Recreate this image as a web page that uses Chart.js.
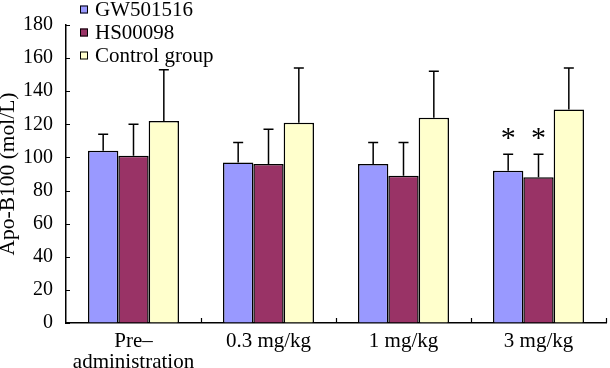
<!DOCTYPE html>
<html>
<head>
<meta charset="utf-8">
<script src="https://cdn.jsdelivr.net/npm/chart.js@4.4.1/dist/chart.umd.min.js"></script>
<style>
  html, body { margin: 0; padding: 0; background: #ffffff; }
  #wrap { width: 610px; height: 368px; position: relative; }
</style>
</head>
<body>
<div id="wrap"><canvas id="c"></canvas></div>
<script>
// ---- data ----
const categories = [["Pre\u2013", "administration"], "0.3 mg/kg", "1 mg/kg", "3 mg/kg"];
const seriesNames = ["GW501516", "HS00098", "Control group"];
const gwValues   = [104, 97, 96, 92];
const gwErrors   = [10, 12, 13, 10];
const hsValues   = [101, 96, 89, 88];
const hsErrors   = [19, 21, 20, 14];
const ctrlValues = [122, 121, 124, 129];
const ctrlErrors = [31, 33, 28, 25];
const gwSignificant   = [false, false, false, true];
const hsSignificant   = [false, false, false, true];
const ctrlSignificant = [false, false, false, false];
const yTicks = [0, 20, 40, 60, 80, 100, 120, 140, 160, 180];

const FONT = "'Liberation Serif', 'Times New Roman', serif";
Chart.defaults.font.family = FONT;
Chart.defaults.color = '#000';

const errorBarPlugin = {
  id: 'errorBars',
  afterDatasetsDraw(chart) {
    const ctx = chart.ctx;
    const y = chart.scales.y;
    ctx.save();
    ctx.strokeStyle = '#000';
    ctx.lineWidth = 1.5;
    chart.data.datasets.forEach((ds, di) => {
      const meta = chart.getDatasetMeta(di);
      meta.data.forEach((bar, i) => {
        const top = y.getPixelForValue(ds.data[i]);
        const capY = y.getPixelForValue(ds.data[i] + ds.errors[i]);
        ctx.beginPath();
        ctx.moveTo(bar.x, top);
        ctx.lineTo(bar.x, capY);
        ctx.moveTo(bar.x - 5, capY);
        ctx.lineTo(bar.x + 5, capY);
        ctx.stroke();
        if (ds.significant[i]) {
          ctx.fillStyle = '#000';
          ctx.font = '30px ' + FONT;
          ctx.textAlign = 'center';
          ctx.textBaseline = 'alphabetic';
          ctx.fillText('*', bar.x, capY - 7.5);
        }
      });
    });
    ctx.restore();
  }
};

const axisTicksPlugin = {
  id: 'axisTicks',
  afterDraw(chart) {
    const ctx = chart.ctx;
    const xs = chart.scales.x, ys = chart.scales.y;
    const area = chart.chartArea;
    ctx.save();
    ctx.strokeStyle = '#000';
    ctx.lineWidth = 1.2;
    ctx.beginPath();
    ys.ticks.forEach(t => {
      const py = Math.round(ys.getPixelForValue(t.value)) + 0.5;
      ctx.moveTo(area.left, py);
      ctx.lineTo(area.left + 4, py);
    });
    const n = xs.ticks.length;
    for (let i = 0; i < n; i++) {
      let px;
      if (i < n - 1) px = (xs.getPixelForTick(i) + xs.getPixelForTick(i + 1)) / 2;
      else px = area.right;
      px = Math.round(px) + 0.5;
      ctx.moveTo(px, area.bottom);
      ctx.lineTo(px, area.bottom - 5);
    }
    ctx.stroke();
    ctx.restore();
  }
};

const legendPlugin = {
  id: 'customLegend',
  afterDraw(chart) {
    const ctx = chart.ctx;
    ctx.save();
    chart.data.datasets.forEach((ds, i) => {
      const cy = 9.5 + i * 23;
      ctx.fillStyle = ds.backgroundColor;
      ctx.fillRect(80, cy - 4, 8, 8);
      ctx.strokeStyle = '#000';
      ctx.lineWidth = 1;
      ctx.strokeRect(80.5, cy - 3.5, 7, 7);
      ctx.fillStyle = '#000';
      ctx.font = '21px ' + FONT;
      ctx.textAlign = 'left';
      ctx.textBaseline = 'middle';
      ctx.fillText(ds.label, 95, cy + 1);
    });
    ctx.restore();
  }
};

const mkDs = (label, data, errors, significant, color) => ({
  label, data, errors, significant,
  backgroundColor: color,
  borderColor: '#000',
  borderWidth: 1.5,
  borderSkipped: 'bottom',
  categoryPercentage: 0.674,
  barPercentage: 1.0
});

new Chart(document.getElementById('c'), {
  type: 'bar',
  data: {
    labels: categories,
    datasets: [
      mkDs(seriesNames[0], gwValues, gwErrors, gwSignificant, '#9999ff'),
      mkDs(seriesNames[1], hsValues, hsErrors, hsSignificant, '#993366'),
      mkDs(seriesNames[2], ctrlValues, ctrlErrors, ctrlSignificant, '#ffffcc')
    ]
  },
  options: {
    responsive: true,
    maintainAspectRatio: false,
    animation: false,
    layout: { padding: { top: 25, right: 4, left: 0, bottom: 0 } },
    plugins: { legend: { display: false }, tooltip: { enabled: false } },
    scales: {
      x: {
        grid: { display: true, drawOnChartArea: false, drawTicks: false },
        border: { display: true, color: '#000', width: 1.5 },
        ticks: { font: { size: 21, lineHeight: 1.0 }, color: '#000', padding: 8, maxRotation: 0, autoSkip: false },
        afterFit(scale) { scale.height = 45; }
      },
      y: {
        min: 0, max: 180,
        grid: { display: true, drawOnChartArea: false, drawTicks: false },
        border: { display: true, color: '#000', width: 1.5 },
        afterBuildTicks(scale) { scale.ticks = yTicks.map(v => ({ value: v })); },
        ticks: { font: { size: 20 }, color: '#000', padding: 13 },
        title: { display: true, text: 'Apo-B100 (mol/L)', font: { size: 21.5, lineHeight: 0.8 }, color: '#000', padding: { top: 0, bottom: 0 } },
        afterFit(scale) { scale.width = 66; }
      }
    }
  },
  plugins: [errorBarPlugin, axisTicksPlugin, legendPlugin]
});
</script>
</body>
</html>
